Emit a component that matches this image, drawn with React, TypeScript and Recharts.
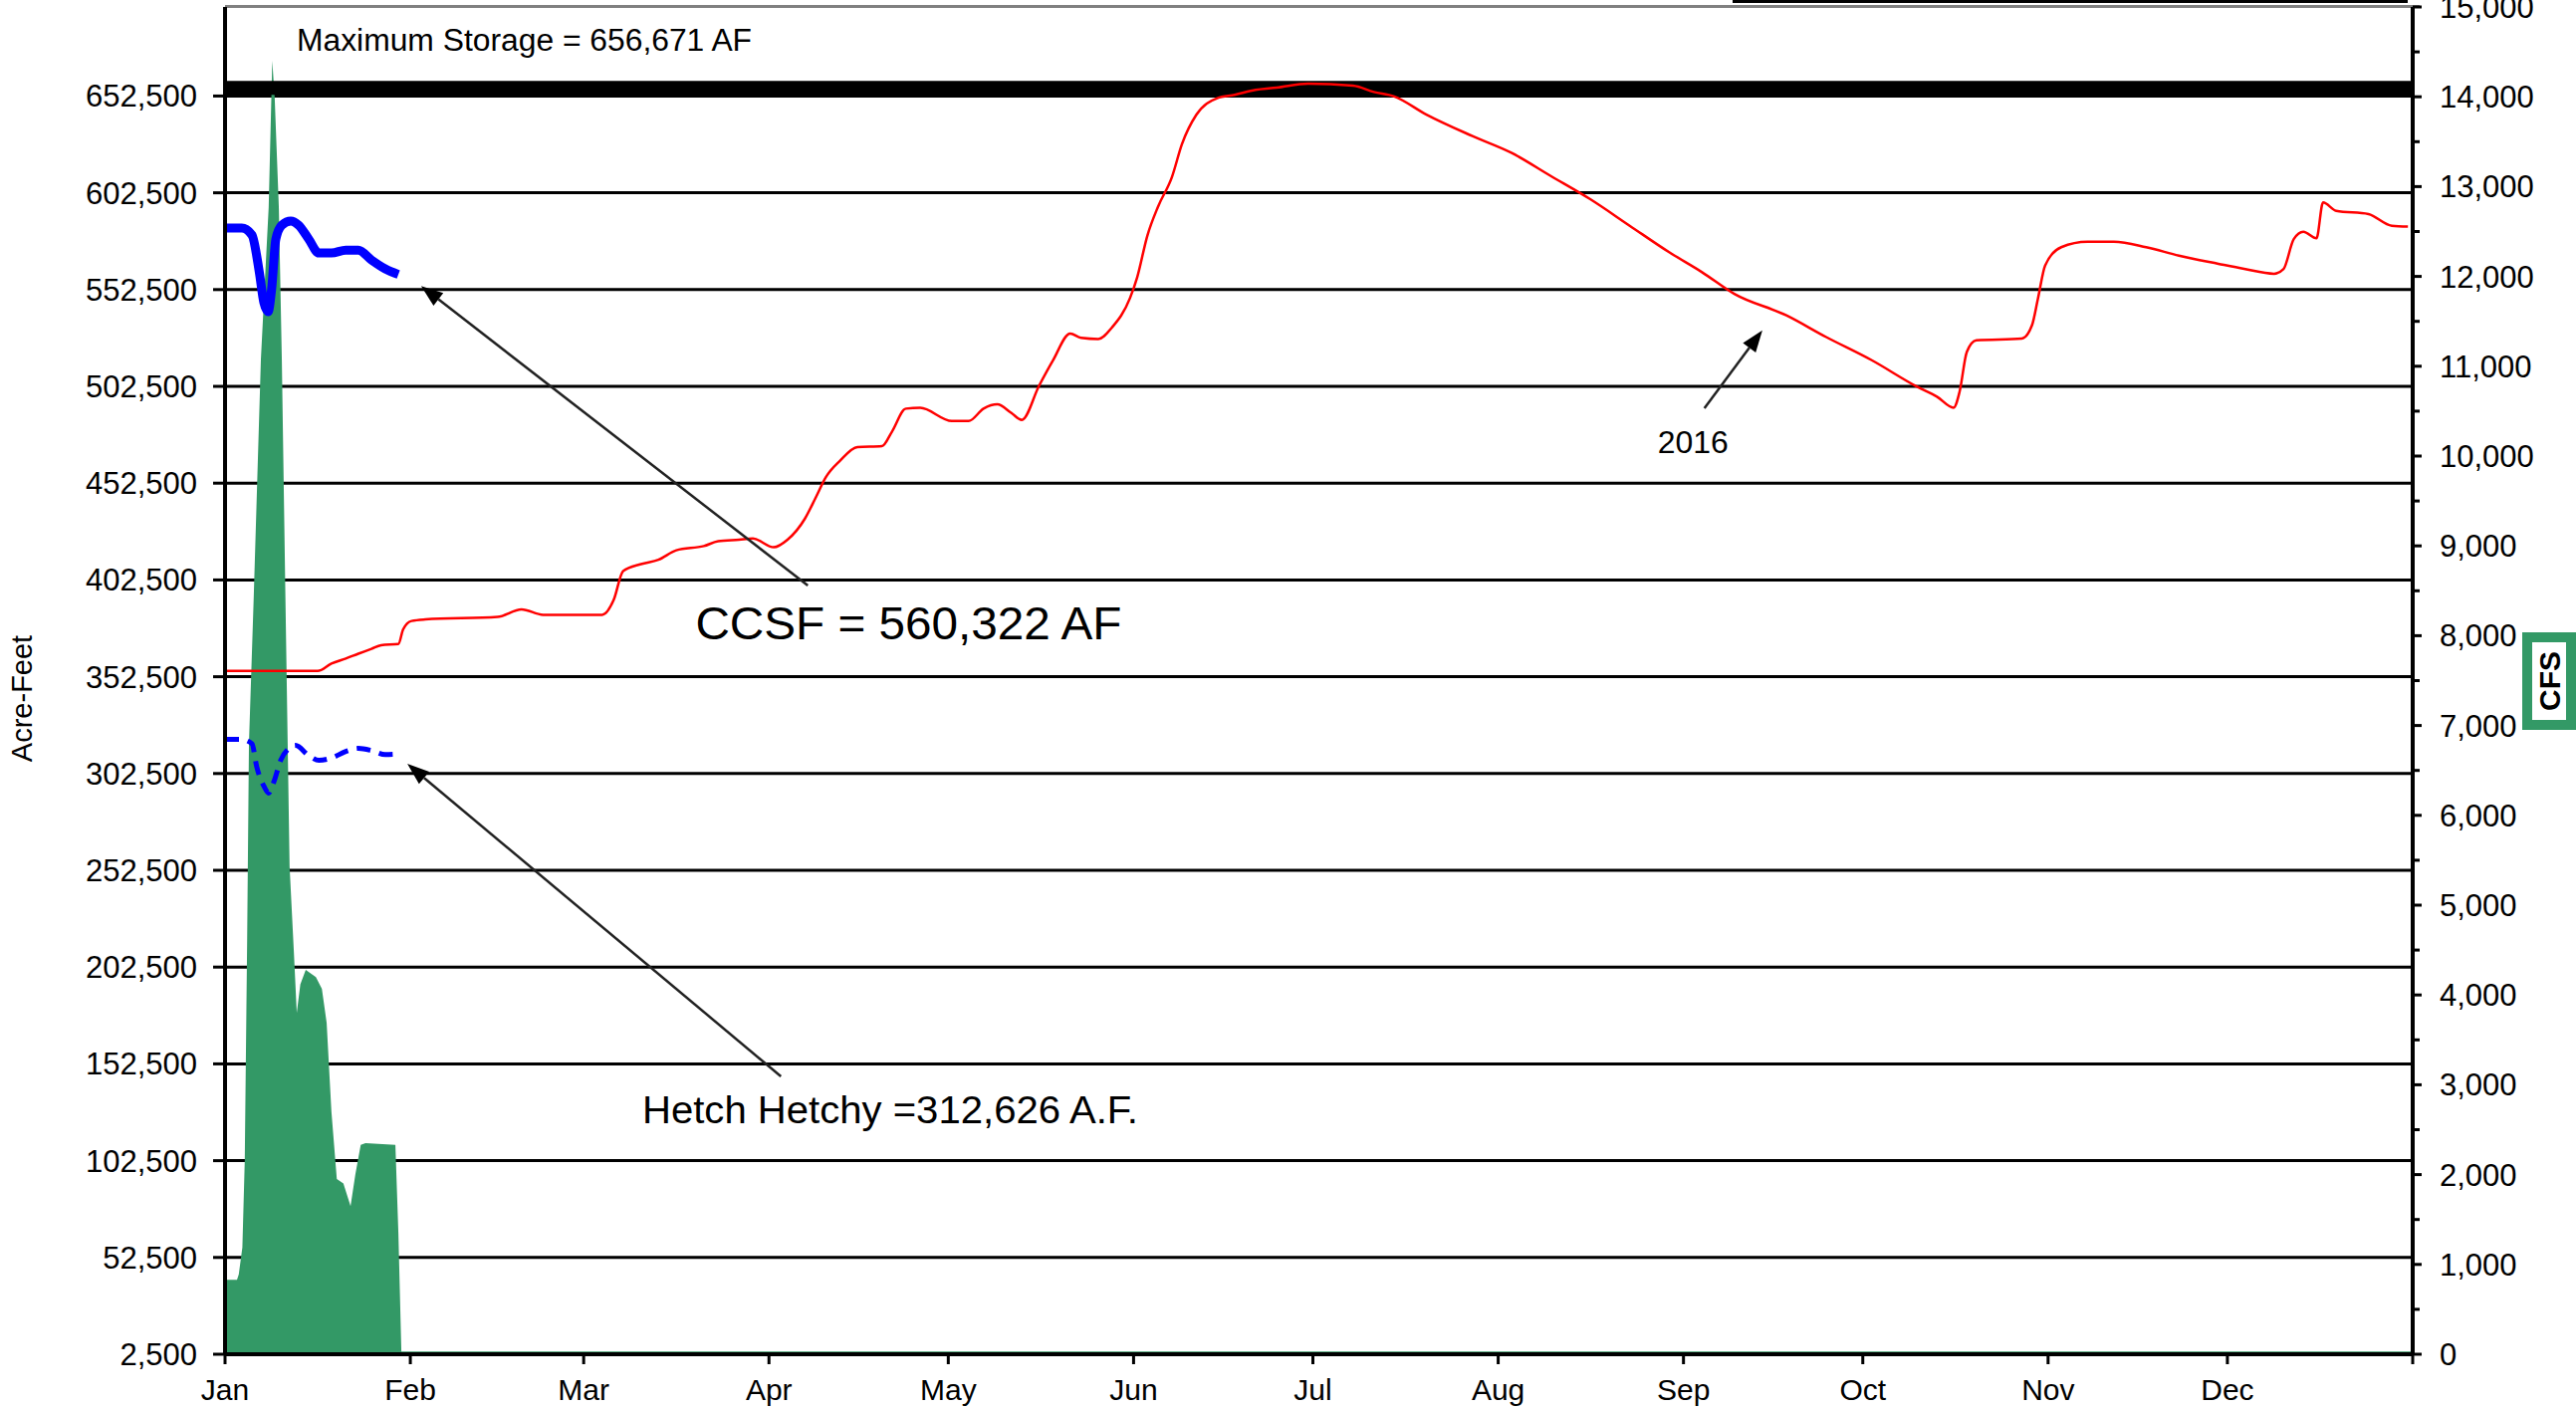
import React from 'react';
import {
  ComposedChart,
  XAxis,
  YAxis,
  CartesianGrid,
  Line,
  Area,
  ReferenceLine,
  ReferenceDot,
} from 'recharts';

const FONT = '"Liberation Sans", Arial, sans-serif';

// ---- axis data ----
const monthStartDays = [0, 31, 60, 91, 121, 152, 182, 213, 244, 274, 305, 335, 366];
const monthLabels = ['Jan', 'Feb', 'Mar', 'Apr', 'May', 'Jun', 'Jul', 'Aug', 'Sep', 'Oct', 'Nov', 'Dec', ''];
const acreFeetTicks = [2500, 52500, 102500, 152500, 202500, 252500, 302500, 352500, 402500, 452500, 502500, 552500, 602500, 652500];
const cfsTicks = [0, 500, 1000, 1500, 2000, 2500, 3000, 3500, 4000, 4500, 5000, 5500, 6000, 6500, 7000, 7500, 8000, 8500, 9000, 9500, 10000, 10500, 11000, 11500, 12000, 12500, 13000, 13500, 14000, 14500, 15000];
const acreFeetDomain = [2500, 698500];
const cfsDomain = [0, 15000];

// ---- max storage ----
const maxStorageDays = [0, 366];
const maxStorageAf = [656671, 656671];

// ---- inflow (CFS, right axis) ----
const inflowDays = [0, 2, 2.3, 2.9, 3.3, 3.7, 4, 4.8, 6, 7.3, 7.9, 8.3, 9, 9.5, 10.1, 10.8, 11.5, 12, 12.6, 13.5, 15.2, 16.2, 17, 17.8, 18.7, 19.8, 21, 21.8, 22.7, 23.5, 28.5, 29, 29.5, 366];
const inflowCfs = [830, 830, 890, 1190, 2160, 4610, 6800, 8430, 11080, 12770, 14400, 14000, 12770, 11080, 8430, 5430, 4500, 3800, 4120, 4280, 4200, 4070, 3690, 2700, 1950, 1900, 1650, 2000, 2330, 2350, 2330, 1350, 30, 30];

// ---- CCSF storage (thick blue) ----
const ccsfDays = [0, 2.8, 4.5, 5.7, 6.5, 7.2, 7.8, 8.5, 9.5, 11, 12.3, 14, 15.7, 17.8, 20.2, 22.3, 24.5, 26.8, 29];
const ccsfAf = [584300, 584300, 580700, 562200, 545700, 541100, 552900, 578600, 585800, 587900, 585800, 578600, 571400, 571400, 572900, 572900, 567800, 563200, 560322];

// ---- Hetch Hetchy storage (dashed blue) ----
const hetchDays = [0, 2.7, 4.5, 5.3, 6.5, 7.3, 8.2, 9.3, 10.7, 11.8, 14, 15.7, 17.8, 20.2, 22.3, 24.5, 26.8, 29];
const hetchAf = [320200, 320200, 317900, 306000, 296000, 292400, 298500, 309300, 315500, 317000, 311800, 309300, 310500, 313900, 315500, 314400, 312300, 312626];

// ---- 2016 storage (red) ----
const y2016Days = [
  0, 15.5, 17.8, 20.2, 22.3, 24.5, 26.1, 29, 29.8, 31.2,
  33.5, 45.6, 49.6, 53.2, 63.1, 65, 66.6, 69.6, 72.5, 75.5,
  80.1, 82.5, 86, 88.3, 91.8, 94.1, 97, 98.8, 100.5, 102.9,
  105.8, 109.9, 111.6, 113.9, 116.3, 121.6, 124.4, 126.9, 129.2, 131.5,
  133.3, 136.2, 138.5, 141.4, 143.2, 146.1, 148.4, 151.4, 152.6, 154.3,
  156.1, 158.4, 160.1, 162.5, 166, 168.9, 172.4, 175.9, 181.2, 188.7,
  192.2, 195.6, 201, 208.7, 215.2, 221.8, 228.4, 235, 241.6, 247.1,
  252.5, 261.2, 267.8, 275.5, 283.1, 286.4, 289.2, 290.2, 291.4, 293,
  300.6, 302.3, 303.3, 304.5, 307.2, 311.6, 316, 321.4, 326.9, 333.5,
  337.8, 342.8, 344.4, 346.1, 347.7, 349.9, 351, 353.2, 358.6, 362.5,
  365.2,
];
const y2016Af = [
  355500, 355500, 359300, 361900, 364400, 366900, 368800, 369400, 377000, 381300,
  382100, 383400, 387300, 384500, 384500, 392000, 407100, 410700, 412900, 417800,
  420000, 422500, 423300, 423900, 419400, 423300, 434100, 444900, 455500, 464100,
  471100, 471600, 479200, 491000, 491400, 484600, 484600, 491000, 493200, 488900,
  485200, 502900, 515800, 529800, 527600, 527000, 533000, 548100, 558800, 580300,
  595400, 610500, 627700, 642800, 651400, 653100, 655700, 656800, 658900, 657800,
  654600, 652300, 642900, 631800, 623200, 611200, 599200, 585500, 571800, 561500,
  550300, 539200, 528100, 516000, 502300, 497200, 491500, 499800, 520300, 526300,
  527200, 534000, 547800, 564900, 574400, 577200, 577200, 574400, 570000, 565800,
  563200, 560700, 563200, 578600, 582400, 579000, 597500, 593200, 591500, 585500,
  585100,
];

// ---- annotations (data coordinates) ----
const ccsfArrow = [{ x: 97.5, y: 399600 }, { x: 32.8, y: 554400 }];
const hetchArrow = [{ x: 93, y: 146000 }, { x: 30.5, y: 307500 }];
const y2016Arrow = [{ x: 247.5, y: 491200 }, { x: 257.2, y: 531500 }];

// build merged table
type Row = { day: number; [k: string]: number | undefined };
function buildRows(): Row[] {
  const map = new Map<number, Row>();
  const put = (days: number[], vals: number[], key: string) => {
    days.forEach((d, i) => {
      if (!map.has(d)) map.set(d, { day: d });
      (map.get(d) as Row)[key] = vals[i];
    });
  };
  put(maxStorageDays, maxStorageAf, 'maxS');
  put(inflowDays, inflowCfs, 'inflow');
  put(ccsfDays, ccsfAf, 'ccsf');
  put(hetchDays, hetchAf, 'hetch');
  put(y2016Days, y2016Af, 'y2016');
  return Array.from(map.values()).sort((a, b) => a.day - b.day);
}
const rows = buildRows();

const ArrowShape = (props: any) => {
  const { x1, y1, x2, y2 } = props;
  if ([x1, y1, x2, y2].some((v) => v === undefined || isNaN(v))) return null;
  const ang = Math.atan2(y2 - y1, x2 - x1);
  const L = 22;
  const W = 8;
  const bx = x2 - L * Math.cos(ang);
  const by = y2 - L * Math.sin(ang);
  const p2x = bx + W * Math.sin(ang);
  const p2y = by - W * Math.cos(ang);
  const p3x = bx - W * Math.sin(ang);
  const p3y = by + W * Math.cos(ang);
  return (
    <g>
      <line x1={x1} y1={y1} x2={bx} y2={by} stroke="#222" strokeWidth={2.5} />
      <polygon points={`${x2},${y2} ${p2x},${p2y} ${p3x},${p3y}`} fill="#000" />
    </g>
  );
};

const textShape = (value: string, fontSize: number, width: number) => (p: any) => (
  <text
    x={p.cx}
    y={p.cy}
    fontSize={fontSize}
    fontFamily={FONT}
    fill="#000"
    textLength={width}
    lengthAdjust="spacingAndGlyphs"
  >
    {value}
  </text>
);

const CfsTick = (props: any) => {
  const { x, y, payload } = props;
  const v = payload.value as number;
  const axisX = x - 18 - 9;
  const major = v % 1000 === 0;
  return (
    <g>
      <line x1={axisX} y1={y} x2={axisX + (major ? 9 : 7)} y2={y} stroke="#000" strokeWidth={3} />
      {major && (
        <text x={x} y={y} dy="0.355em" textAnchor="start" fontSize={31} fontFamily={FONT} fill="#000">
          {v.toLocaleString('en-US')}
        </text>
      )}
    </g>
  );
};

const acreFeetLabel = (props: any) => {
  const vb = props.viewBox || { x: 0, y: 0, width: 0, height: 0 };
  const cx = vb.x + 22;
  const cy = vb.y + vb.height / 2 + 18;
  return (
    <text
      x={cx}
      y={cy}
      transform={`rotate(-90, ${cx}, ${cy})`}
      textAnchor="middle"
      dominantBaseline="central"
      fontSize={29}
      fontFamily={FONT}
      fill="#000"
    >
      Acre-Feet
    </text>
  );
};

const cfsLabel = (props: any) => {
  const vb = props.viewBox || { x: 0, y: 0, width: 0, height: 0 };
  const rx = vb.x + 115;
  const ry = 640;
  const cx = rx + 22;
  const cy = ry + 44;
  return (
    <g>
      <rect x={rx} y={ry} width={44} height={88} fill="#fff" stroke="#339966" strokeWidth={10} />
      <text
        x={cx}
        y={cy}
        transform={`rotate(-90, ${cx}, ${cy})`}
        textAnchor="middle"
        dominantBaseline="central"
        fontSize={30}
        fontWeight="bold"
        fontFamily={FONT}
        fill="#000"
      >
        CFS
      </text>
    </g>
  );
};

export default function App() {
  return (
    <div style={{ position: 'absolute', left: 0, top: 0, width: 2587, height: 1416, background: '#fff' }}>
      <div style={{ position: 'absolute', left: 1740, top: 0, width: 678, height: 3, background: '#000' }} />
      <div style={{ position: 'absolute', left: 226, top: 5, width: 2204, height: 3, background: '#808080' }} />
      <ComposedChart
        width={2587}
        height={1416}
        data={rows}
        margin={{ top: 7, right: 0, bottom: 0, left: 0 }}
      >
        <CartesianGrid yAxisId="left" vertical={false} stroke="#000" strokeWidth={3} horizontalValues={acreFeetTicks} />
        <XAxis
          dataKey="day"
          type="number"
          domain={[0, 366]}
          ticks={monthStartDays}
          interval={0}
          allowDataOverflow
          height={56}
          tickSize={10}
          tickMargin={15}
          axisLine={{ stroke: '#000', strokeWidth: 4 }}
          tickLine={{ stroke: '#000', strokeWidth: 3 }}
          tick={{ fill: '#000', fontSize: 30, fontFamily: FONT }}
          tickFormatter={(v: number) => monthLabels[monthStartDays.indexOf(v)] ?? ''}
        />
        <YAxis
          yAxisId="left"
          orientation="left"
          type="number"
          domain={acreFeetDomain}
          ticks={acreFeetTicks}
          interval={0}
          allowDataOverflow
          width={226}
          tickSize={12}
          tickMargin={16}
          axisLine={{ stroke: '#000', strokeWidth: 4 }}
          tickLine={{ stroke: '#000', strokeWidth: 3 }}
          tick={{ fill: '#000', fontSize: 31, fontFamily: FONT }}
          tickFormatter={(v: number) => v.toLocaleString('en-US')}
          label={acreFeetLabel}
        />
        <YAxis
          yAxisId="right"
          orientation="right"
          type="number"
          domain={cfsDomain}
          ticks={cfsTicks}
          interval={0}
          allowDataOverflow
          width={164}
          tickSize={9}
          tickMargin={18}
          axisLine={{ stroke: '#000', strokeWidth: 4 }}
          tickLine={false}
          tick={<CfsTick />}
          label={cfsLabel}
        />
        <Line
          yAxisId="left"
          dataKey="maxS"
          type="linear"
          stroke="#000"
          strokeWidth={14}
          dot={false}
          connectNulls
          isAnimationActive={false}
        />
        <Area
          yAxisId="right"
          dataKey="inflow"
          type="linear"
          stroke="none"
          fill="#339966"
          fillOpacity={1}
          connectNulls
          isAnimationActive={false}
        />
        <Line
          yAxisId="left"
          dataKey="y2016"
          type="monotone"
          stroke="#ff0000"
          strokeWidth={2.5}
          dot={false}
          connectNulls
          isAnimationActive={false}
        />
        <Line
          yAxisId="left"
          dataKey="hetch"
          type="monotone"
          stroke="#0000ff"
          strokeWidth={5}
          strokeDasharray="14 9"
          dot={false}
          connectNulls
          isAnimationActive={false}
        />
        <Line
          yAxisId="left"
          dataKey="ccsf"
          type="monotone"
          stroke="#0000ff"
          strokeWidth={9}
          dot={false}
          connectNulls
          isAnimationActive={false}
        />
        <ReferenceLine yAxisId="left" segment={ccsfArrow} shape={ArrowShape} />
        <ReferenceLine yAxisId="left" segment={hetchArrow} shape={ArrowShape} />
        <ReferenceLine yAxisId="left" segment={y2016Arrow} shape={ArrowShape} />
        <ReferenceDot yAxisId="left" x={12} y={675800} r={1} shape={textShape('Maximum  Storage = 656,671 AF', 31, 457)} />
        <ReferenceDot yAxisId="left" x={78.7} y={371800} r={1} shape={textShape('CCSF = 560,322 AF', 47, 428)} />
        <ReferenceDot yAxisId="left" x={69.8} y={121800} r={1} shape={textShape('Hetch  Hetchy =312,626 A.F.', 38, 498)} />
        <ReferenceDot yAxisId="left" x={239.7} y={468000} r={1} shape={textShape('2016', 31, 71)} />
      </ComposedChart>
    </div>
  );
}
